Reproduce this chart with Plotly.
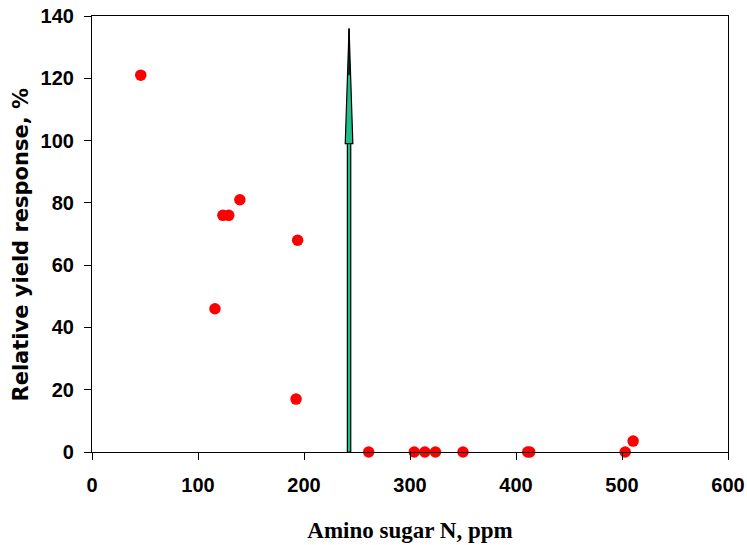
import plotly.graph_objects as go

amino_n = [46, 116, 123.5, 129, 139.5, 194, 192.5, 261, 304, 314, 324, 350, 411, 413, 503, 510.5]
yield_resp = [121, 46, 76, 76, 81, 68, 17, 0, 0, 0, 0, 0, 0, 0, 0, 3.5]
threshold_x = 242.5
arrow_top = 136
head_base = 99
x_ticks = [0, 100, 200, 300, 400, 500, 600]
y_ticks = [0, 20, 40, 60, 80, 100, 120, 140]
y_title = "<b>Relative yield response, %</b>"
x_title = "<b>Amino sugar N, ppm</b>"

fig = go.Figure()
fig.add_trace(go.Scatter(x=amino_n, y=yield_resp, mode="markers",
                         marker=dict(color="#ff0000", size=11.5, line=dict(width=0)),
                         showlegend=False, cliponaxis=False, hoverinfo="skip"))

# arrow: shaft + head
sw = 1.6
hw = 3.6
fig.add_shape(type="rect", x0=threshold_x - sw, x1=threshold_x + sw, y0=0, y1=head_base + 1,
              xref="x", yref="y", fillcolor="#1fbf8c", line=dict(color="black", width=1.2), layer="above")
path = (f"M {threshold_x - hw},{head_base} L {threshold_x},{arrow_top} "
        f"L {threshold_x + hw},{head_base} Z")
fig.add_shape(type="path", path=path, xref="x", yref="y",
              fillcolor="#1fbf8c", line=dict(color="black", width=1.2), layer="above")
fig.add_shape(type="line", x0=threshold_x, x1=threshold_x, y0=head_base + 22, y1=arrow_top,
              xref="x", yref="y", line=dict(color="black", width=1.5), layer="above")

axis_common = dict(showline=True, linecolor="black", linewidth=1.2, mirror=True,
                   ticks="outside", ticklen=7, tickcolor="black", tickwidth=1,
                   showgrid=False, zeroline=False, automargin=False,
                   ticklabeloverflow="allow")
fig.update_xaxes(range=[0, 600], tickvals=x_ticks,
                 tickfont=dict(family="Liberation Sans", size=20, color="black", weight="bold"),
                 ticklabelstandoff=8,
                 title=dict(text=x_title,
                            font=dict(family="Liberation Serif", size=23, color="black"), standoff=26),
                 **axis_common)
fig.update_yaxes(range=[0, 140], tickvals=y_ticks,
                 tickfont=dict(family="Liberation Sans", size=20, color="black", weight="bold"),
                 ticklabelstandoff=6,
                 **axis_common)
fig.add_annotation(text=y_title, xref="paper", yref="paper",
                   x=(20.5 - 92) / 636, y=(452 - 245) / 436,
                   xanchor="center", yanchor="middle", textangle=-90, showarrow=False,
                   font=dict(family="DejaVu Sans", size=21, color="black"))
fig.update_layout(width=747, height=545, plot_bgcolor="white", paper_bgcolor="white",
                  margin=dict(l=92, r=19, t=16, b=93, autoexpand=False))
fig.write_html("out.html", post_script="document.body.style.margin='0';",
               config={"displayModeBar": False})
